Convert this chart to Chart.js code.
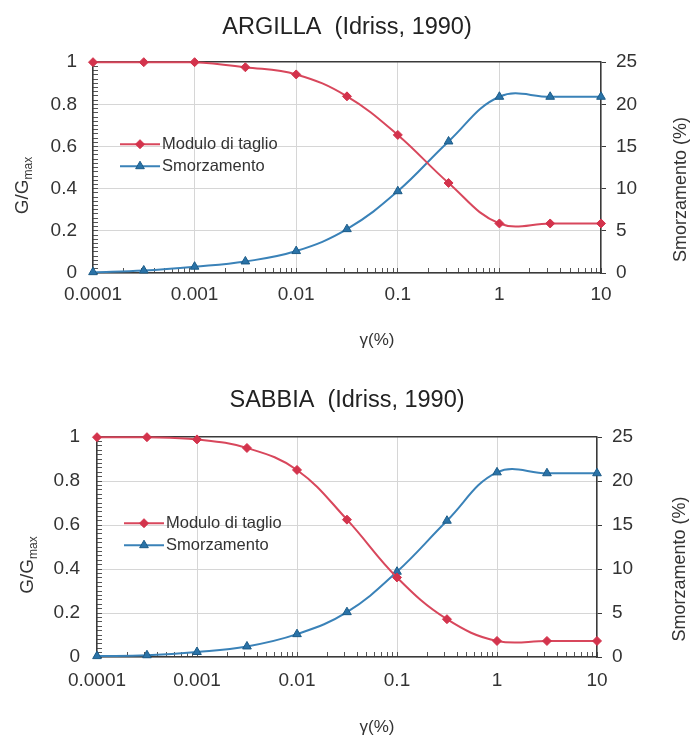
<!DOCTYPE html>
<html>
<head>
<meta charset="utf-8">
<script src="https://cdn.jsdelivr.net/npm/chart.js"></script>
<style>
    body { margin: 0; background: #ffffff; }
    canvas { display: block; }
</style>
</head>
<body>
<canvas id="clayChart" width="694" height="368"></canvas>
<canvas id="sandChart" width="694" height="367"></canvas>
<script>
// shear strain (%) of the points
const strain = [0.0001, 0.000316, 0.001, 0.00316, 0.01, 0.0316, 0.1, 0.316, 1, 3.16, 10];

// ARGILLA
const clayModulus = [1, 1, 1, 0.976, 0.942, 0.838, 0.655, 0.427, 0.235, 0.235, 0.235];
const clayDamping = [0.1, 0.3, 0.75, 1.37, 2.6, 5.2, 9.7, 15.6, 20.9, 20.9, 20.9];

// SABBIA
const sandModulus = [1, 1, 0.99, 0.951, 0.851, 0.625, 0.362, 0.172, 0.073, 0.073, 0.073];
const sandDamping = [0.1, 0.2, 0.57, 1.2, 2.6, 5.1, 9.7, 15.5, 21, 20.9, 20.9];

const seriesNames = ['Modulo di taglio', 'Smorzamento'];
const xTickValues = [0.0001, 0.001, 0.01, 0.1, 1, 10];
const xTickLabels = ['0.0001', '0.001', '0.01', '0.1', '1', '10'];
const leftTickValues = [0, 0.2, 0.4, 0.6, 0.8, 1];
const leftTickLabels = ['0', '0.2', '0.4', '0.6', '0.8', '1'];
const rightTickLabels = ['0', '5', '10', '15', '20', '25'];
const xAxisTitle = 'γ(%)';
const leftAxisTitle = ['G/G', 'max'];
const rightAxisTitle = 'Smorzamento (%)';

const FONT = '"Liberation Sans", Arial, sans-serif';
const RED = '#d8475c';
const RED_DOT = '#d3334c';
const BLUE = '#3a82b8';
const BLUE_DOT = '#2a73a8';
const BLUE_EDGE = '#1c5b87';
const GRID = '#d6d6d6';
const AXIS = '#3a3a3a';

Chart.defaults.font.family = FONT;

const font = size => size + 'px ' + FONT;

// axis titles (G/Gmax with subscript, right title reading upwards) and the inner legend
const overlay = {
    id: 'overlay',
    afterDraw(chart) {
        const o = chart.options.plugins.overlay;
        const {ctx, chartArea: a} = chart;
        const midX = (a.left + a.right) / 2;
        const midY = (a.top + a.bottom) / 2;
        ctx.save();
        ctx.fillStyle = '#333333';
        ctx.textBaseline = 'middle';

        ctx.font = font(17);
        ctx.textAlign = 'center';
        ctx.fillText(xAxisTitle, midX + 30, a.bottom + o.xTitleDy);

        ctx.save();
        ctx.translate(a.left - o.leftTitleDx, midY + 18);
        ctx.rotate(-Math.PI / 2);
        ctx.font = font(19);
        const w1 = ctx.measureText(leftAxisTitle[0]).width;
        ctx.font = font(12);
        const w2 = ctx.measureText(leftAxisTitle[1]).width;
        ctx.textAlign = 'left';
        ctx.font = font(19);
        ctx.fillText(leftAxisTitle[0], -(w1 + w2) / 2, 0);
        ctx.font = font(12);
        ctx.fillText(leftAxisTitle[1], -(w1 + w2) / 2 + w1, 6);
        ctx.restore();

        ctx.save();
        ctx.translate(a.right + o.rightTitleDx, midY + 22);
        ctx.rotate(-Math.PI / 2);
        ctx.font = font(18);
        ctx.textAlign = 'center';
        ctx.fillText(rightAxisTitle, 0, 0);
        ctx.restore();

        // legend inside the plot
        chart.data.datasets.forEach((ds, i) => {
            const y = a.top + o.legendDy + i * 22;
            const x0 = a.left + 27;
            const x1 = a.left + 67;
            ctx.strokeStyle = ds.borderColor;
            ctx.lineWidth = 2;
            ctx.beginPath();
            ctx.moveTo(x0, y);
            ctx.lineTo(x1, y);
            ctx.stroke();
            ctx.fillStyle = ds.pointBackgroundColor;
            ctx.strokeStyle = ds.pointBorderColor;
            ctx.lineWidth = 1;
            Chart.helpers.drawPoint(ctx, {
                pointStyle: ds.pointStyle,
                radius: ds.pointRadius,
                borderWidth: 1,
                rotation: 0
            }, (x0 + x1) / 2, y);
            ctx.fillStyle = '#333333';
            ctx.font = font(16.5);
            ctx.textAlign = 'left';
            ctx.fillText(ds.label, x1 + 2, y);
        });
        ctx.restore();
    }
};

function makeChart(id, title, modulus, damping, lay) {
    const ctx = document.getElementById(id).getContext('2d');
    return new Chart(ctx, {
        type: 'line',
        data: {
            datasets: [{
                label: seriesNames[0],
                data: strain.map((x, i) => ({x: x, y: modulus[i]})),
                yAxisID: 'y',
                borderColor: RED,
                backgroundColor: RED_DOT,
                pointBackgroundColor: RED_DOT,
                pointBorderColor: RED_DOT,
                pointStyle: 'rectRot',
                pointRadius: 4.5,
                pointBorderWidth: 1,
                borderWidth: 2,
                tension: 0.4,
                clip: false
            }, {
                label: seriesNames[1],
                data: strain.map((x, i) => ({x: x, y: damping[i]})),
                yAxisID: 'y2',
                borderColor: BLUE,
                backgroundColor: BLUE_DOT,
                pointBackgroundColor: BLUE_DOT,
                pointBorderColor: BLUE_EDGE,
                pointStyle: 'triangle',
                pointRadius: 5,
                pointBorderWidth: 1,
                borderWidth: 2,
                tension: 0.4,
                clip: false
            }]
        },
        options: {
            responsive: false,
            animation: false,
            layout: { padding: 0 },
            plugins: {
                legend: { display: false },
                tooltip: { enabled: false },
                title: {
                    display: true,
                    text: title,
                    color: '#222222',
                    font: { size: 23.5, weight: 'normal' },
                    padding: lay.titlePadding
                },
                overlay: lay
            },
            scales: {
                x: {
                    type: 'logarithmic',
                    min: 0.0001,
                    max: 10,
                    afterFit: scale => { scale.height = lay.xHeight; },
                    afterBuildTicks: scale => {
                        const ticks = [];
                        xTickValues.forEach((v, i) => {
                            ticks.push({value: v, major: true});
                            if (i < xTickValues.length - 1) {
                                for (let m = 2; m <= 9; m++) ticks.push({value: v * m, major: false});
                            }
                        });
                        scale.ticks = ticks;
                    },
                    ticks: {
                        autoSkip: false,
                        maxRotation: 0,
                        padding: lay.xPad,
                        color: '#333333',
                        font: { size: 19 },
                        callback: value => {
                            const i = xTickValues.findIndex(v => Math.abs(Math.log10(v) - Math.log10(value)) < 1e-6);
                            return i >= 0 ? xTickLabels[i] : '';
                        }
                    },
                    grid: {
                        color: c => (c.tick && c.tick.major) ? GRID : 'rgba(0,0,0,0)',
                        tickColor: '#555555',
                        tickLength: -5,
                        lineWidth: 1
                    },
                    border: { color: AXIS, width: 1.5 }
                },
                y: {
                    position: 'left',
                    min: 0,
                    max: 1,
                    afterFit: scale => { scale.width = lay.yWidth; },
                    afterBuildTicks: scale => {
                        const ticks = [];
                        for (let i = 0; i <= 50; i++) ticks.push({value: i / 50});
                        scale.ticks = ticks;
                    },
                    ticks: {
                        autoSkip: false,
                        padding: lay.leftPad,
                        color: '#333333',
                        font: { size: 19 },
                        callback: value => {
                            const i = leftTickValues.findIndex(v => Math.abs(v - value) < 1e-6);
                            return i >= 0 ? leftTickLabels[i] : '';
                        }
                    },
                    grid: {
                        color: c => {
                            const v = c.tick ? c.tick.value : -1;
                            if (Math.abs(v - 1) < 1e-6) return AXIS;
                            return leftTickValues.some(t => Math.abs(t - v) < 1e-6) ? GRID : 'rgba(0,0,0,0)';
                        },
                        lineWidth: c => (c.tick && Math.abs(c.tick.value - 1) < 1e-6) ? 1.5 : 1,
                        tickColor: '#555555',
                        tickLength: -5
                    },
                    border: { color: AXIS, width: 1.5 }
                },
                y2: {
                    position: 'right',
                    min: 0,
                    max: 25,
                    afterFit: scale => { scale.width = lay.yWidth; },
                    ticks: {
                        stepSize: 5,
                        autoSkip: false,
                        padding: lay.rightPad,
                        color: '#333333',
                        font: { size: 19 },
                        callback: (value, index) => rightTickLabels[index]
                    },
                    grid: {
                        drawOnChartArea: false,
                        tickColor: AXIS,
                        tickLength: 5
                    },
                    border: { color: AXIS, width: 1.5 }
                }
            }
        },
        plugins: [overlay]
    });
}

makeChart('clayChart', 'ARGILLA  (Idriss, 1990)', clayModulus, clayDamping, {
    titlePadding: {top: 13, bottom: 21},
    xHeight: 95, yWidth: 93,
    xPad: 15, leftPad: 21, rightPad: 10,
    xTitleDy: 67, leftTitleDx: 70, rightTitleDx: 80, legendDy: 82
});

makeChart('sandChart', 'SABBIA  (Idriss, 1990)', sandModulus, sandDamping, {
    titlePadding: {top: 18, bottom: 23},
    xHeight: 78, yWidth: 97,
    xPad: 17, leftPad: 22, rightPad: 10,
    xTitleDy: 70, leftTitleDx: 69, rightTitleDx: 83, legendDy: 86
});
</script>
</body>
</html>
